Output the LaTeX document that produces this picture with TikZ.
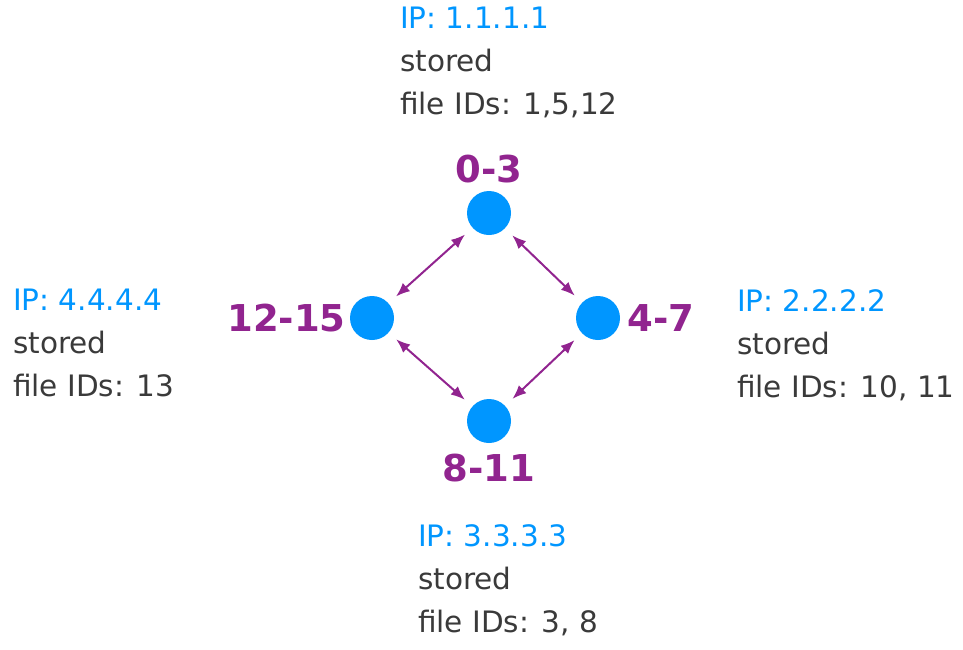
\documentclass[tikz,border=0pt]{standalone}
\usepackage{fontspec}
\setmainfont{DejaVu Sans}
\usetikzlibrary{arrows.meta}

\definecolor{ipblue}{RGB}{0,150,255}
\definecolor{rangepurple}{RGB}{145,36,143}
\definecolor{textgrey}{RGB}{58,58,58}

\begin{document}
\begin{tikzpicture}
          [
            x=1pt,y=-1pt,
            peer/.style={circle,fill=ipblue,minimum size=44pt,inner sep=0pt},
            rangelbl/.style={text=rangepurple,font=\fontsize{37}{37}\selectfont\bfseries,inner sep=0pt},
            info/.style={anchor=north west,align=left,inner sep=0pt,text=textgrey,
              font=\fontsize{29.5}{43}\selectfont},
            link/.style={line width=2pt,rangepurple,{Latex[length=14pt,width=11pt]}-{Latex[length=14pt,width=11pt]},
              shorten <=10pt,shorten >=10pt}
          ]
          \useasboundingbox (0,0) rectangle (963,649);
          % peers on the ring
          \node[peer,label={[rangelbl,label distance=8pt]above:0-3}] (p0) at (489,213) {};
          \node[peer,label={[rangelbl,label distance=7pt]right:4-7}] (p4) at (598,318) {};
          \node[peer,label={[rangelbl,label distance=11pt]below:8-11}] (p8) at (489,421) {};
          \node[peer,label={[rangelbl,label distance=4pt]left:12-15}] (p12) at (372,318) {};
          % what each peer holds
          \node[info] (i0) at (400,7) {\textcolor{ipblue}{IP: 1.1.1.1}\\stored\\file IDs: 1,5,12};
          \node[info] (i4) at (737,289) {\textcolor{ipblue}{IP: 2.2.2.2}\\stored\\file IDs: 10, 11};
          \node[info] (i8) at (418,524) {\textcolor{ipblue}{IP: 3.3.3.3}\\stored\\file IDs: 3, 8};
          \node[info] (i12) at (13,289) {\textcolor{ipblue}{IP: 4.4.4.4}\\stored\\file IDs: 13};
          % links
          \draw [link] (p0) -- (p4);
          \draw [link] (p4) -- (p8);
          \draw [link] (p8) -- (p12);
          \draw [link] (p12) -- (p0);
        \end{tikzpicture}
\end{document}
